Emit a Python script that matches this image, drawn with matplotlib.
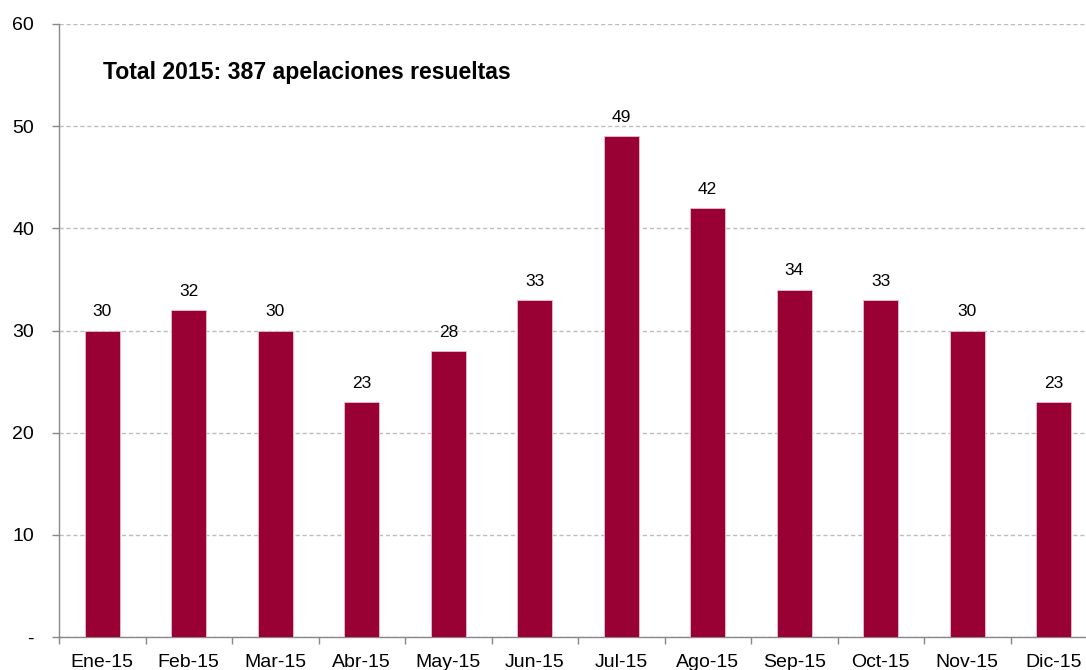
import numpy as np
import matplotlib.pyplot as plt
from matplotlib.ticker import FixedLocator, FuncFormatter

plt.rcParams['font.family'] = ['Liberation Sans', 'DejaVu Sans']

# datos mensuales
meses = ['Ene-15', 'Feb-15', 'Mar-15', 'Abr-15', 'May-15', 'Jun-15',
         'Jul-15', 'Ago-15', 'Sep-15', 'Oct-15', 'Nov-15', 'Dic-15']
apelaciones = [30, 32, 30, 23, 28, 33, 49, 42, 34, 33, 30, 23]
titulo = 'Total 2015: 387 apelaciones resueltas'

fig = plt.figure(figsize=(10.86, 6.70), dpi=100)
ax = fig.add_axes([59 / 1086, 33 / 670, 1038 / 1086, 613 / 670])

x = np.arange(len(meses))
barras = ax.bar(x, apelaciones, width=0.4, color='#990033',
                edgecolor='#e8c0cc', linewidth=0.6, zorder=3)

for xi, v in zip(x, apelaciones):
    ax.text(xi, v + 1.1, str(v), ha='center', va='bottom', fontsize=12.5)

ax.set_xlim(-0.5, len(meses) - 0.5)
ax.set_ylim(0, 60)
ax.set_yticks(range(0, 61, 10))
ax.yaxis.set_major_formatter(FuncFormatter(lambda v, p: '-' if v == 0 else f'{int(v)}'))
ax.yaxis.grid(True, linestyle=(0, (3, 2)), color='#bdbdbd', linewidth=1, zorder=0)

# ticks entre categorias, etiquetas al centro
ax.xaxis.set_major_locator(FixedLocator(np.arange(-0.5, len(meses), 1)))
ax.xaxis.set_minor_locator(FixedLocator(x))
ax.set_xticklabels([''] * len(ax.get_xticks()))
ax.set_xticklabels(meses, minor=True)
ax.tick_params(axis='x', which='major', length=5, color='#888888', width=1)
ax.tick_params(axis='x', which='minor', length=0, pad=12, labelsize=14)
ax.tick_params(axis='y', length=5, color='#888888', width=1, labelsize=14, pad=13)

for s in ['top', 'right']:
    ax.spines[s].set_visible(False)
for s in ['left', 'bottom']:
    ax.spines[s].set_color('#888888')
    ax.spines[s].set_linewidth(1)

fig.text(103 / 1086, 1 - 73 / 670, titulo,
         ha='left', va='center', fontsize=16.6, fontweight='bold')

fig.savefig('out.png', dpi=100)
